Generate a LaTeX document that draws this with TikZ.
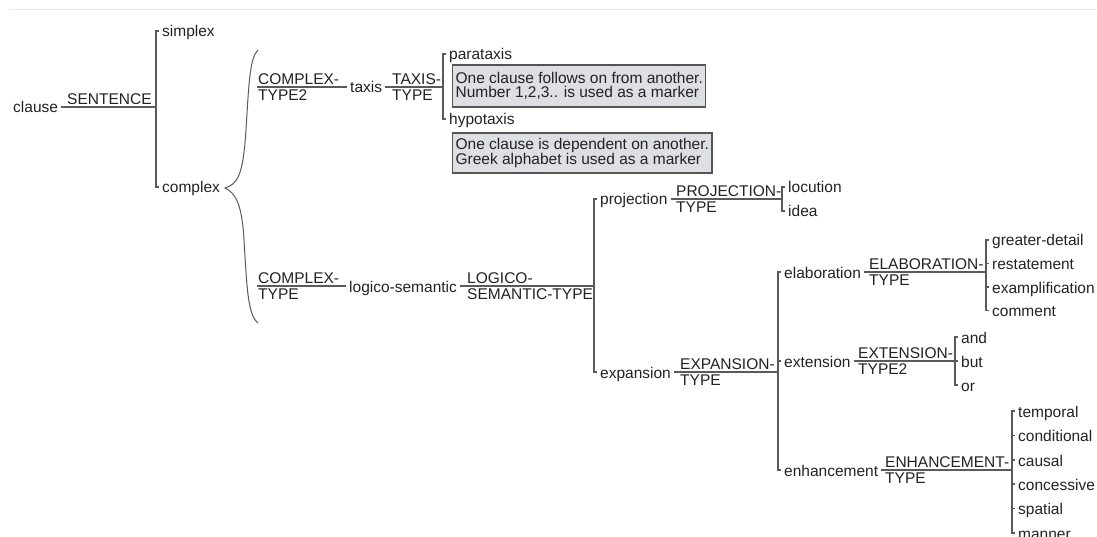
\documentclass[tikz,border=0pt]{standalone}
\usepackage{fontspec}
\setmainfont{Liberation Sans}
\definecolor{lncol}{HTML}{5A5A5A}
\definecolor{txcol}{HTML}{222222}
\definecolor{boxfill}{HTML}{DEDFE3}
\definecolor{boxline}{HTML}{555555}
\definecolor{faintcol}{HTML}{E8E8E8}
\begin{document}
\begin{tikzpicture}[x=1pt,y=-1pt,
  every node/.style={font=\fontsize{15.5}{16}\selectfont, text=txcol},
  word/.style={anchor=west, inner xsep=3pt, inner ysep=0pt, text height=12pt, text depth=0pt},
  tag/.style={anchor=base west, inner sep=0pt},
  tagtwo/.style={anchor=west, inner sep=0pt, align=left},
  conn/.style={draw=lncol, line width=1.3pt},
  bracecurve/.style={draw=lncol, line width=1pt},
  note/.style={anchor=west, draw=boxline, fill=boxfill, line width=1.2pt, align=left,
    inner xsep=3pt, inner ysep=0pt, font=\fontsize{15.5}{14.5}\selectfont},
]
\useasboundingbox (0,0) rectangle (1097,537);
\draw[faintcol, line width=1.5pt] (10,9.5) -- (1097,9.5);

% SENTENCE
\node[word] (clause) at (10,107) {clause};
\node[tag] (sentence) at (67,105) {SENTENCE};
\coordinate (b1) at (156,107);
\node[word] (simplex) at (159,31) {simplex};
\node[word] (complex) at (159,187) {complex};
\draw[conn] (clause.east) -- (b1);
\draw[conn] (simplex.west) -- (simplex.west -| b1) -- (complex.west -| b1) -- (complex.west);

% brace
\draw[bracecurve] (258,50) .. controls (250,58) and (249,80) .. (246,130)
  .. controls (243,175) and (238,184) .. (225,188)
  .. controls (236,193) and (242,205) .. (244,240)
  .. controls (247,290) and (248,315) .. (258,323);

% COMPLEX-TYPE2 / taxis
\coordinate (ct2) at (257,87);
\node[tagtwo] (ct2lbl) at (258,87) {COMPLEX-\\TYPE2};
\node[word] (taxis) at (347,87) {taxis};
\draw[conn] (ct2) -- (taxis.west);
\node[tagtwo] (taxistype) at (392,87) {TAXIS-\\TYPE};
\coordinate (b2) at (443,87);
\draw[conn] (taxis.east) -- (b2);
\node[word] (parataxis) at (446,54) {parataxis};
\node[word] (hypotaxis) at (446,119) {hypotaxis};
\draw[conn] (parataxis.west) -- (parataxis.west -| b2) -- (hypotaxis.west -| b2) -- (hypotaxis.west);
\node[note, minimum height=42pt] (parabox) at (452,86) {One clause follows on from another.\\Number 1,2,3.. is used as a marker};
\node[note, minimum height=40pt] (hypobox) at (452,153) {One clause is dependent on another.\\Greek alphabet is used as a marker};

% COMPLEX-TYPE / logico-semantic
\coordinate (ct) at (257,286);
\node[tagtwo] (ctlbl) at (258,286) {COMPLEX-\\TYPE};
\node[word] (logsem) at (346,286) {logico-semantic};
\draw[conn] (ct) -- (logsem.west);
\node[tagtwo] (lstype) at (467,286) {LOGICO-\\SEMANTIC-TYPE};
\coordinate (b3) at (594,286);
\draw[conn] (logsem.east) -- (b3);
\node[word] (projection) at (597,199) {projection};
\node[word] (expansion) at (597,372) {expansion};
\draw[conn] (projection.west) -- (projection.west -| b3) -- (expansion.west -| b3) -- (expansion.west);

% projection
\node[tagtwo] (projtype) at (676,199) {PROJECTION-\\TYPE};
\coordinate (b4) at (782,199);
\draw[conn] (projection.east) -- (b4);
\node[word] (locution) at (785,187) {locution};
\node[word] (idea) at (785,211) {idea};
\draw[conn] (locution.west) -- (locution.west -| b4) -- (idea.west -| b4) -- (idea.west);

% expansion
\node[tagtwo] (exptype) at (680,372) {EXPANSION-\\TYPE};
\coordinate (b5) at (778,372);
\draw[conn] (expansion.east) -- (b5);
\node[word] (elaboration) at (781,272) {elaboration};
\node[word] (extension) at (781,361) {extension};
\node[word] (enhancement) at (781,470) {enhancement};
\draw[conn] (elaboration.west) -- (elaboration.west -| b5) -- (enhancement.west -| b5) -- (enhancement.west);
\draw[conn] (extension.west -| b5) -- (extension.west);

% elaboration
\node[tagtwo] (elabtype) at (869,272) {ELABORATION-\\TYPE};
\coordinate (b6) at (986,272);
\draw[conn] (elaboration.east) -- (b6);
\node[word] (greater) at (989,240) {greater-detail};
\node[word] (restatement) at (989,263.5) {restatement};
\node[word] (exampl) at (989,287) {examplification};
\node[word] (comment) at (989,310.5) {comment};
\draw[conn] (greater.west) -- (greater.west -| b6) -- (comment.west -| b6) -- (comment.west);
\draw[conn] (restatement.west -| b6) -- (restatement.west);
\draw[conn] (exampl.west -| b6) -- (exampl.west);

% extension
\node[tagtwo] (exttype) at (858,361) {EXTENSION-\\TYPE2};
\coordinate (b7) at (955,361);
\draw[conn] (extension.east) -- (b7);
\node[word] (and) at (958,337) {and};
\node[word] (but) at (958,361) {but};
\node[word] (or) at (958,385) {or};
\draw[conn] (and.west) -- (and.west -| b7) -- (or.west -| b7) -- (or.west);
\draw[conn] (but.west -| b7) -- (but.west);

% enhancement
\node[tagtwo] (enhtype) at (885,470) {ENHANCEMENT-\\TYPE};
\coordinate (b8) at (1012,470);
\draw[conn] (enhancement.east) -- (b8);
\node[word] (temporal) at (1015,411) {temporal};
\node[word] (conditional) at (1015,435.5) {conditional};
\node[word] (causal) at (1015,460) {causal};
\node[word] (concessive) at (1015,484) {concessive};
\node[word] (spatial) at (1015,508.5) {spatial};
\node[word] (manner) at (1015,533) {manner};
\draw[conn] (temporal.west) -- (temporal.west -| b8) -- (manner.west -| b8) -- (manner.west);
\foreach \n in {conditional,causal,concessive,spatial}
  \draw[conn] (\n.west -| b8) -- (\n.west);
\end{tikzpicture}
\end{document}
